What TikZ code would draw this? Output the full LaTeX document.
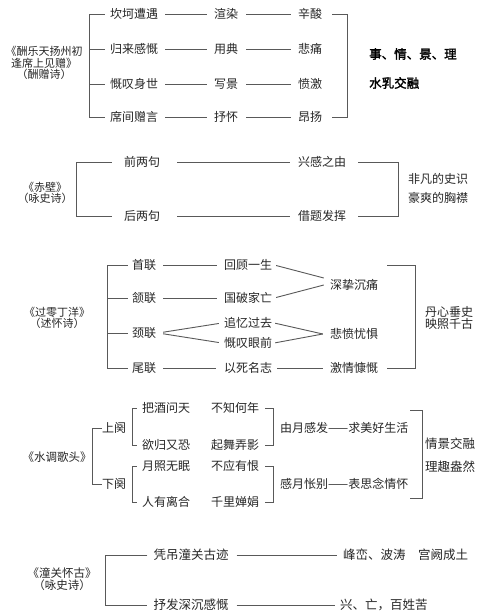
\documentclass[tikz,border=0pt]{standalone}
\usepackage{fontspec}
\setmainfont{Noto Sans CJK SC}
\newfontfamily\cjkb{Noto Sans CJK SC}[FakeBold=2]
\usetikzlibrary{calc}
\begin{document}
\begin{tikzpicture}[x=1pt,y=-1pt,
  txt/.style={inner sep=2pt, text=black!85, font=\fontsize{12}{12}\selectfont},
  big/.style={inner sep=2pt, text=black!85, font=\fontsize{12.5}{12.5}\selectfont},
  ttl/.style={inner sep=0pt, align=center, text=black!85, font=\fontsize{11}{11.5}\selectfont},
  bold/.style={inner sep=0pt, anchor=west, text=black, font=\cjkb\fontsize{12.5}{12.5}\selectfont},
  ln/.style={draw=black!65, line width=0.9pt},
]
\fill[white] (0,0) rectangle (480,615);
\useasboundingbox (0,0) rectangle (480,615);

% ---------- Section 1 ----------
\node[ttl] (t1) at (44,63) {《酬乐天扬州初\\逢席上见赠》\\（酬赠诗）};
\coordinate (L1) at (89,0);
\coordinate (R1) at (347,0);
\node[txt] (a1) at (134,14) {坎坷遭遇};
\node[txt] (a2) at (134,49) {归来感慨};
\node[txt] (a3) at (134,84) {慨叹身世};
\node[txt] (a4) at (134,117) {席间赠言};
\node[txt] (b1) at (226,14) {渲染};
\node[txt] (b2) at (226,49) {用典};
\node[txt] (b3) at (226,84) {写景};
\node[txt] (b4) at (226,117) {抒怀};
\node[txt] (c1) at (310,14) {辛酸};
\node[txt] (c2) at (310,49) {悲痛};
\node[txt] (c3) at (310,84) {愤激};
\node[txt] (c4) at (310,117) {昂扬};
\node[bold] (d1) at (369,54) {事、情、景、理};
\node[bold] (d2) at (369,83) {水乳交融};
\draw[ln,shorten <=3pt,shorten >=3pt] (a1.west) -- (a1.west -| L1) -- (a4.west -| L1) -- (a4.west);
\draw[ln,shorten <=3pt] (a2.west) -- (a2.west -| L1);
\draw[ln,shorten <=3pt] (a3.west) -- (a3.west -| L1);
\foreach \i in {1,2,3,4}{
  \draw[ln,shorten <=5pt,shorten >=5pt] (a\i) -- (b\i);
  \draw[ln,shorten <=6pt,shorten >=5pt] (b\i) -- (c\i);
}
\draw[ln,shorten <=8pt,shorten >=8pt] (c1.east) -- (c1.east -| R1) -- (c4.east -| R1) -- (c4.east);

% ---------- Section 2 ----------
\node[ttl] (t2) at (45,193) {《赤壁》\\（咏史诗）};
\coordinate (L2) at (76,0);
\coordinate (R2) at (398,0);
\node[txt] (p1) at (142,162) {前两句};
\node[txt] (p2) at (142,216) {后两句};
\node[txt] (q1) at (322,162) {兴感之由};
\node[txt] (q2) at (322,216) {借题发挥};
\node[txt,align=center,font=\fontsize{12}{19}\selectfont] (e1) at (438,188) {非凡的史识\\豪爽的胸襟};
\draw[ln,shorten <=10pt,shorten >=10pt] (p1.west) -- (p1.west -| L2) -- (p2.west -| L2) -- (p2.west);
\draw[ln,shorten <=15pt,shorten >=6pt] (p1) -- (q1);
\draw[ln,shorten <=15pt,shorten >=6pt] (p2) -- (q2);
\draw[ln,shorten <=10pt,shorten >=10pt] (q1.east) -- (q1.east -| R2) -- (q2.east -| R2) -- (q2.east);

% ---------- Section 3 ----------
\node[ttl] (t3) at (57,318) {《过零丁洋》\\（述怀诗）};
\coordinate (L3) at (107,0);
\coordinate (R3) at (415,0);
\coordinate (k3) at (387,265);
\node[txt] (r1) at (144,265) {首联};
\node[txt] (r2) at (144,298) {颔联};
\node[txt] (r3) at (144,333) {颈联};
\node[txt] (r4) at (144,368) {尾联};
\node[txt] (s1) at (248,265) {回顾一生};
\node[txt] (s2) at (248,298) {国破家亡};
\node[txt] (s3) at (248,323) {追忆过去};
\node[txt] (s4) at (248,343) {慨叹眼前};
\node[txt] (s5) at (248,368) {以死名志};
\node[txt] (u1) at (354,285) {深挚沉痛};
\node[txt] (u2) at (354,334) {悲愤忧惧};
\node[txt] (u3) at (354,368) {激情慷慨};
\node[txt,align=center,font=\fontsize{12}{12.5}\selectfont] (f1) at (449,318) {丹心垂史\\映照千古};
\draw[ln,shorten <=2pt,shorten >=2pt] (r1.west) -- (r1.west -| L3) -- (r4.west -| L3) -- (r4.west);
\draw[ln,shorten <=2pt] (r2.west) -- (r2.west -| L3);
\draw[ln,shorten <=2pt] (r3.west) -- (r3.west -| L3);
\draw[ln,shorten <=5pt,shorten >=5pt] (r1) -- (s1);
\draw[ln,shorten <=5pt,shorten >=5pt] (r2) -- (s2);
\draw[ln,shorten <=5pt,shorten >=6pt] (r4) -- (s5);
\draw[ln,shorten <=5pt,shorten >=3pt] (r3.east) -- (s3.west);
\draw[ln,shorten <=5pt,shorten >=3pt] (r3.east) -- (s4.west);
\draw[ln,shorten <=2pt] (s1.east) -- ($(u1.west)+(-4,-7)$);
\draw[ln,shorten <=2pt] (s2.east) -- ($(u1.west)+(-4,0)$);
\draw[ln,shorten <=1pt] (s3.east) -- ($(u2.west)+(-5,0)$);
\draw[ln,shorten <=1pt] (s4.east) -- ($(u2.west)+(-5,0)$);
\draw[ln,shorten <=3pt,shorten >=5pt] (s5) -- (u3);
\draw[ln,shorten >=7pt] (k3) -- (k3 -| R3) -- (u3.east -| R3) -- (u3.east);

% ---------- Section 4 ----------
\node[ttl,font=\fontsize{11.5}{11.5}\selectfont] (t4) at (57,457) {《水调歌头》};
\coordinate (L4) at (92,0);
\coordinate (L5) at (132,0);
\coordinate (R5) at (273,0);
\coordinate (R6) at (422,0);
\coordinate (k4a) at (410,410);
\coordinate (k4b) at (410,498);
\node[txt,inner sep=0pt] (v1) at (114,428) {上阕};
\node[txt,inner sep=0pt] (v2) at (114,484) {下阕};
\node[txt] (w1) at (166,408) {把酒问天};
\node[txt] (w2) at (166,445) {欲归又恐};
\node[txt] (w3) at (166,466) {月照无眠};
\node[txt] (w4) at (166,502) {人有离合};
\node[txt] (x1) at (235,408) {不知何年};
\node[txt] (x2) at (235,445) {起舞弄影};
\node[txt] (x3) at (235,466) {不应有恨};
\node[txt] (x4) at (235,502) {千里婵娟};
\node[txt,anchor=west] (y1) at (278,428) {由月感发——求美好生活};
\node[txt,anchor=west] (y2) at (278,484) {感月怅别——表思念情怀};
\node[txt,align=center,font=\fontsize{12.5}{23}\selectfont] (g1) at (450,455) {情景交融\\理趣盎然};
\draw[ln] (v1.west) -- (v1.west -| L4) -- (v2.west -| L4) -- (v2.west);
\draw[ln,shorten <=3pt,shorten >=3pt] (w1.west) -- (w1.west -| L5) -- (w2.west -| L5) -- (w2.west);
\draw[ln,shorten <=3pt,shorten >=3pt] (w3.west) -- (w3.west -| L5) -- (w4.west -| L5) -- (w4.west);
\draw[ln,shorten <=4pt,shorten >=4pt] (x1.east) -- (x1.east -| R5) -- (x2.east -| R5) -- (x2.east);
\draw[ln,shorten <=4pt,shorten >=4pt] (x3.east) -- (x3.east -| R5) -- (x4.east -| R5) -- (x4.east);
\draw[ln] (k4a) -- (k4a -| R6) -- (k4b -| R6) -- (k4b);

% ---------- Section 5 ----------
\node[ttl,font=\fontsize{11.5}{12}\selectfont] (t5) at (62,579) {《潼关怀古》\\（咏史诗）};
\coordinate (L6) at (105,0);
\node[big] (h1) at (191,555) {凭吊潼关古迹};
\node[big] (h2) at (191,605) {抒发深沉感慨};
\node[big,anchor=west] (i1) at (341,555) {峰峦、波涛　宫阙成土};
\node[big,anchor=west] (i2) at (338,605) {兴、亡，百姓苦};
\draw[ln,shorten <=4pt,shorten >=4pt] (h1.west) -- (h1.west -| L6) -- (h2.west -| L6) -- (h2.west);
\draw[ln,shorten <=6pt,shorten >=4pt] (h1) -- (i1);
\draw[ln,shorten <=6pt,shorten >=3pt] (h2) -- (i2);
\end{tikzpicture}
\end{document}
